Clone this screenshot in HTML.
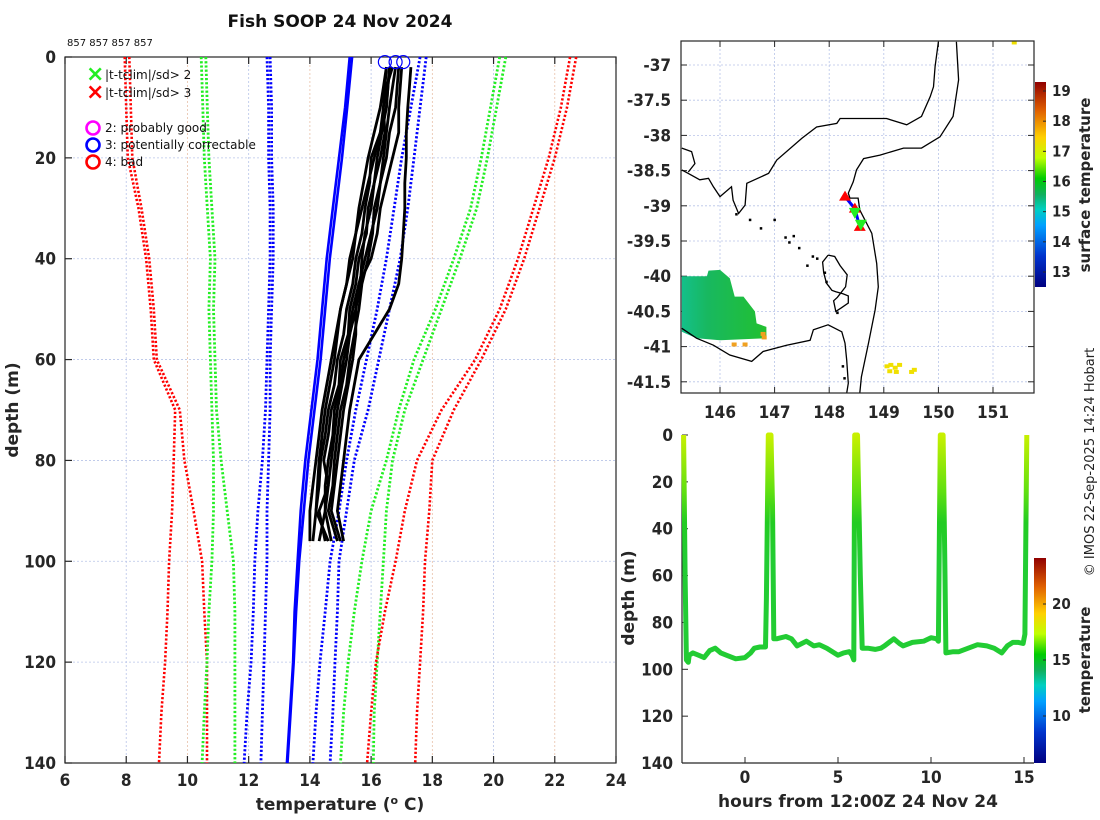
<!DOCTYPE html>
<html><head><meta charset="utf-8">
<style>
html,body{margin:0;padding:0;background:#fff;}
svg{display:block;font-family:"DejaVu Sans","Liberation Sans",sans-serif;}
.tk{font-size:17px;font-weight:bold;fill:#262626;font-family:"DejaVu Sans Condensed","DejaVu Sans",sans-serif;}
.lab{font-size:17px;font-weight:bold;fill:#262626;}
.grid{stroke:#b8c4e8;stroke-width:0.8;stroke-dasharray:2 2;}
.grid2{stroke:#e8c0a8;stroke-width:0.8;stroke-dasharray:2 2;}
</style></head>
<body>
<svg id="fig" width="1100" height="820" viewBox="0 0 1100 820">
<defs>
<linearGradient id="jet" x1="0" y1="1" x2="0" y2="0">
<stop offset="0" stop-color="#000080"/><stop offset="0.15" stop-color="#0033cc"/>
<stop offset="0.3" stop-color="#00a0ff"/><stop offset="0.38" stop-color="#00d0c0"/>
<stop offset="0.45" stop-color="#10b060"/><stop offset="0.53" stop-color="#00cc00"/>
<stop offset="0.63" stop-color="#c0ff00"/><stop offset="0.73" stop-color="#ffd000"/>
<stop offset="0.86" stop-color="#e06000"/><stop offset="1" stop-color="#900000"/>
</linearGradient>
<linearGradient id="trk" gradientUnits="userSpaceOnUse" x1="0" y1="435" x2="0" y2="560">
<stop offset="0" stop-color="#c8f000"/><stop offset="0.45" stop-color="#60e010"/><stop offset="0.7" stop-color="#22cc22"/><stop offset="1" stop-color="#22cc33"/>
</linearGradient>
<linearGradient id="sst" x1="0" y1="0" x2="1" y2="0">
<stop offset="0" stop-color="#14c08a"/><stop offset="0.3" stop-color="#18b860"/><stop offset="1" stop-color="#22c030"/>
</linearGradient>
</defs>
<text x="340" y="27" text-anchor="middle" style="font-size:17px;font-weight:bold;fill:#111">Fish SOOP 24 Nov 2024</text>
<text x="67" y="46" style="font-size:10px;fill:#111">857 857 857 857</text>
<g id="left"></g>
<g id="map"></g>
<g id="sect"></g>
<text transform="translate(1094,462) rotate(-90)" text-anchor="middle" style="font-size:13px;fill:#222">© IMOS 22-Sep-2025 14:24 Hobart</text>
</svg>
<script>
// ---------- left profile plot data ----------
const climDepths=[0,10,20,30,40,50,60,70,80,90,100,110,120,130,140];
const redL1=[7.95,8.0,8.05,8.4,8.65,8.8,8.9,9.6,9.55,9.5,9.4,9.35,9.27,9.15,9.07];
const redL2=[8.1,8.15,8.2,8.5,8.75,8.9,9.0,9.75,9.9,10.2,10.48,10.55,10.64,10.64,10.64];
const greenL1=[10.45,10.5,10.55,10.65,10.75,10.7,10.75,10.8,10.85,10.85,10.8,10.7,10.64,10.55,10.48];
const greenL2=[10.6,10.65,10.7,10.8,10.9,10.85,10.9,10.95,11.1,11.3,11.5,11.55,11.55,11.55,11.55];
const blueL1=[12.6,12.65,12.65,12.7,12.7,12.65,12.6,12.55,12.45,12.3,12.2,12.15,12.08,11.95,11.85];
const blueL2=[12.7,12.75,12.75,12.8,12.8,12.75,12.7,12.7,12.65,12.6,12.6,12.55,12.5,12.45,12.4];
const meanA=[15.3,15.15,14.95,14.75,14.55,14.4,14.25,14.05,13.85,13.7,13.6,13.5,13.45,13.35,13.25];
const meanB=[15.38,15.22,15.05,14.85,14.65,14.5,14.35,14.15,13.95,13.8,13.65,13.55,13.47,13.37,13.27];
const blueR1=[17.6,17.3,17.0,16.75,16.5,16.2,15.85,15.5,15.2,14.95,14.66,14.5,14.33,14.2,14.1];
const blueR2=[17.8,17.6,17.4,17.2,16.95,16.6,16.25,15.9,15.45,15.2,14.95,14.9,14.82,14.75,14.66];
const greenR1=[20.2,19.9,19.6,19.25,18.7,18.1,17.4,16.9,16.5,16.0,15.7,15.45,15.25,15.1,15.0];
const greenR2=[20.4,20.1,19.8,19.45,18.9,18.3,17.7,17.1,16.7,16.5,16.4,16.3,16.2,16.1,16.07];
const redR1=[22.5,22.2,21.8,21.3,20.8,20.2,19.4,18.3,17.5,17.1,16.8,16.45,16.16,16.0,15.87];
const redR2=[22.7,22.4,22.0,21.5,21.0,20.4,19.6,18.7,18.0,17.9,17.76,17.7,17.6,17.5,17.44];
const profDepths=[2,6,10,15,20,25,30,35,40,45,50,55,60,65,70,75,80,85,90,96];
const prof1=[16.5,16.45,16.4,16.3,16.0,15.95,15.8,15.7,15.5,15.4,15.2,15.1,14.9,14.8,14.6,14.5,14.35,14.3,14.2,14.1];
const prof2=[16.6,16.55,16.5,16.35,16.2,16.1,15.9,15.85,15.6,15.5,15.3,15.25,15.0,14.95,14.7,14.6,14.45,14.6,14.3,14.5];
const prof3=[16.7,16.5,16.4,16.45,16.3,16.1,16.0,15.8,15.7,15.65,15.5,15.3,15.1,15.0,14.8,14.75,14.6,14.5,14.5,14.7];
const prof4=[16.9,16.85,16.8,16.6,16.5,16.3,16.1,16.05,15.9,15.7,15.6,15.45,15.3,15.2,15.0,14.9,14.8,14.75,14.6,14.9];
const prof5=[17.0,16.95,16.9,16.9,16.7,16.5,16.3,16.2,16.0,15.6,15.5,15.5,15.4,15.25,15.1,15.0,14.9,14.8,14.7,15.0];
const prof6=[16.5,16.4,16.3,16.1,15.9,15.75,15.6,15.5,15.4,15.2,15.0,14.85,14.7,14.55,14.4,14.3,14.2,14.1,14.0,14.0];
const prof7=[17.3,17.25,17.2,17.15,17.15,17.1,17.1,17.05,17.0,16.9,16.6,16.1,15.6,15.45,15.3,15.2,15.1,15.0,14.9,15.1];
const prof8=[16.6,16.55,16.5,16.3,16.1,15.9,15.7,15.5,15.3,15.2,15.0,14.9,14.8,14.65,14.5,14.4,14.3,14.25,14.2,14.6];
const prof9=[16.8,16.7,16.6,16.5,16.4,16.3,16.2,16.0,15.8,15.6,15.4,15.3,15.2,15.05,14.9,14.8,14.7,14.6,14.5,14.3];
const flagTemps=[16.45,16.8,17.05];
const flagDepths=[1,1,1];
const xTicksL=[6,8,10,12,14,16,18,20,22,24];
const yTicksL=[0,20,40,60,80,100,120,140];

// ---------- map data ----------
const coastMain=[[150.0,-36.67],[149.94,-37.02],[149.91,-37.31],[149.85,-37.45],[149.69,-37.73],[149.42,-37.85],[149.05,-37.76],[148.2,-37.76],[148.14,-37.83],[147.77,-37.88],[147.5,-38.04],[147.04,-38.35],[146.89,-38.54],[146.49,-38.68],[146.46,-38.99],[146.34,-39.11],[146.24,-38.92],[146.21,-38.73],[146.0,-38.87],[145.88,-38.73],[145.79,-38.61],[145.63,-38.63],[145.42,-38.54],[145.3,-38.49]];
const coastWest=[[145.3,-38.18],[145.48,-38.23],[145.54,-38.4],[145.42,-38.52]];
const shelfLine=[[150.33,-36.67],[150.37,-37.21],[150.27,-37.73],[150.03,-38.02],[149.69,-38.18],[149.36,-38.18],[148.93,-38.28],[148.63,-38.33],[148.5,-38.49],[148.44,-38.66],[148.35,-38.82],[148.38,-38.89],[148.53,-38.89],[148.56,-39.06],[148.78,-39.39],[148.87,-39.82],[148.9,-40.15],[148.84,-40.48],[148.72,-40.95],[148.59,-41.43],[148.56,-41.66]];
const coastTas=[[145.3,-40.74],[145.57,-40.88],[145.88,-40.98],[146.18,-41.12],[146.58,-41.21],[146.79,-41.07],[147.22,-40.98],[147.65,-40.91],[147.71,-40.76],[147.98,-40.69],[148.23,-40.79],[148.29,-40.95],[148.32,-41.19],[148.35,-41.52],[148.32,-41.66]];
const flinders=[[147.98,-39.7],[147.88,-39.8],[147.9,-39.95],[147.95,-40.1],[148.05,-40.2],[148.12,-40.22],[148.25,-40.25],[148.35,-40.28],[148.35,-40.38],[148.22,-40.45],[148.12,-40.5],[148.08,-40.35],[148.15,-40.3],[148.3,-40.15],[148.33,-39.98],[148.2,-39.85],[148.1,-39.72],[147.98,-39.7]];
const islands=[[146.3,-39.12],[146.55,-39.2],[146.75,-39.32],[147.0,-39.2],[147.2,-39.45],[147.35,-39.43],[147.45,-39.6],[147.7,-39.72],[147.78,-39.75],[147.6,-39.85],[147.27,-39.52],[147.95,-40.08],[147.92,-39.95],[148.15,-40.52],[148.25,-41.28],[148.28,-41.45]];
const sstPatch=[[145.3,-40.0],[145.76,-40.0],[145.79,-39.92],[146.0,-39.91],[146.18,-40.03],[146.27,-40.29],[146.43,-40.29],[146.64,-40.5],[146.67,-40.67],[146.85,-40.72],[146.85,-40.88],[146.0,-40.91],[145.57,-40.88],[145.3,-40.79]];
const warmPixLon=[149.05,149.12,149.2,149.28,149.1,149.22,149.5,149.55,146.78,146.8,146.25,146.45,151.38];
const warmPixLat=[-41.28,-41.26,-41.3,-41.26,-41.35,-41.36,-41.36,-41.33,-40.82,-40.87,-40.97,-40.97,-36.68];
const trackLon=[148.29,148.47,148.56];
const trackLat=[-38.87,-39.04,-39.3];
const greenLon=[148.47,148.58];
const greenLat=[-39.1,-39.27];
const lonTicks=[146,147,148,149,150,151];
const latTicks=[-37,-37.5,-38,-38.5,-39,-39.5,-40,-40.5,-41,-41.5];
const sstTicks=[13,14,15,16,17,18,19];

// ---------- section data ----------
const hours=[-3.3,-3.22,-3.15,-3.05,-3.0,-2.8,-2.5,-2.2,-1.9,-1.6,-1.3,-1.0,-0.5,0,0.3,0.5,0.8,1.1,1.15,1.25,1.4,1.48,1.55,1.7,2.2,2.5,2.8,3.3,3.7,4.0,4.4,4.6,5.0,5.3,5.6,5.75,5.85,5.9,6.05,6.2,6.3,6.6,7.0,7.3,7.5,8.0,8.3,8.5,9.0,9.6,10.0,10.3,10.4,10.5,10.65,10.75,10.8,11.2,11.5,12.0,12.5,13.0,13.4,13.8,14.1,14.4,14.7,14.95,15.05,15.1,15.15];
const depths=[0,60,96,97,94,93,94,95,92,91,93,94,95.5,95,93,91,90.5,90.5,70,0,0,30,87,87,86,87,90,88,90,89.5,91,92,94,93,92.5,94,96,0,0,60,91,91,91.5,91,90,87,89,90,88.5,88,86.5,87,88,0,0,60,93,92.5,92.5,91,89.5,90,91,93,90,88.5,88.5,89,85,40,0];
const hourTicks=[0,5,10,15];
const depthTicks=[0,20,40,60,80,100,120,140];
const tempTicks=[10,15,20];

const NS='http://www.w3.org/2000/svg';
function mk(parent,tag,attrs,text){const e=document.createElementNS(NS,tag);for(const k in attrs)e.setAttribute(k,attrs[k]);if(text!==undefined)e.textContent=text;parent.appendChild(e);return e;}

// ===== left plot =====
const L=document.getElementById('left');
const lx=t=>65+(t-6)*551/18, ly=d=>57+d*706/140;
xTicksL.forEach((t,i)=>{
  const g=mk(L,'line',{x1:lx(t),x2:lx(t),y1:57,y2:763,class:i%2?'grid':'grid2'});
  
  const a=mk(L,'line',{x1:lx(t),x2:lx(t),y1:763,y2:756,stroke:'#262626','stroke-width':1.2});
  
  const b=mk(L,'line',{x1:lx(t),x2:lx(t),y1:57,y2:64,stroke:'#262626','stroke-width':1.2});
  
  const tx=mk(L,'text',{x:lx(t),y:786,'text-anchor':'middle',class:'tk'},String(t));
  
});
yTicksL.forEach(d=>{
  const g=mk(L,'line',{x1:65,x2:616,y1:ly(d),y2:ly(d),class:'grid'});
  
  const a=mk(L,'line',{x1:65,x2:72,y1:ly(d),y2:ly(d),stroke:'#262626','stroke-width':1.2});
  
  const tx=mk(L,'text',{x:56,y:ly(d)+6,'text-anchor':'end',class:'tk'},String(d));
  
});
const fr=mk(L,'rect',{x:65,y:57,width:551,height:706,fill:'none',stroke:'#262626','stroke-width':1.2});

function lineL(vals,deps,color,dotted,w,name){
  const p=vals.map((v,i)=>(i?'L':'M')+lx(v).toFixed(1)+' '+ly(deps[i]).toFixed(1)).join(' ');
  const e=mk(L,'path',{d:p,fill:'none',stroke:color,'stroke-width':w,'stroke-dasharray':dotted?'2.2 2':'none','stroke-linejoin':'round'});
  
}
lineL(redL1,climDepths,'#ff0000',true,2.6,'clim-3sd-lower');
lineL(redL2,climDepths,'#ff0000',true,2.6,'clim-3sd-lower-2');
lineL(greenL1,climDepths,'#22ee22',true,2.8,'clim-2sd-lower');
lineL(greenL2,climDepths,'#22ee22',true,2.8,'clim-2sd-lower-2');
lineL(blueL1,climDepths,'#0000ff',true,2.8,'clim-1sd-lower');
lineL(blueL2,climDepths,'#0000ff',true,2.8,'clim-1sd-lower-2');
lineL(blueR1,climDepths,'#0000ff',true,2.8,'clim-1sd-upper');
lineL(blueR2,climDepths,'#0000ff',true,2.8,'clim-1sd-upper-2');
lineL(greenR1,climDepths,'#22ee22',true,2.8,'clim-2sd-upper');
lineL(greenR2,climDepths,'#22ee22',true,2.8,'clim-2sd-upper-2');
lineL(redR1,climDepths,'#ff0000',true,2.6,'clim-3sd-upper');
lineL(redR2,climDepths,'#ff0000',true,2.6,'clim-3sd-upper-2');
lineL(meanA,climDepths,'#0000ff',false,2.6,'clim-mean');
lineL(meanB,climDepths,'#0000ff',false,2.6,'clim-mean-2');
[prof1,prof2,prof3,prof4,prof5,prof6,prof7,prof8,prof9].forEach((p,i)=>lineL(p,profDepths,'#000',false,2.8,'profile-'+(i+1)));
flagTemps.forEach((t,i)=>{
  const c=mk(L,'circle',{cx:lx(t),cy:ly(flagDepths[i]),r:6.5,fill:'none',stroke:'#0000ff','stroke-width':1.2});
  
});
// legend
const leg=mk(L,'g',{});

[['×','#22ee22','|t-tclim|/sd> 2',74],['×','#ff0000','|t-tclim|/sd> 3',92]].forEach(r=>{
  const m=mk(leg,'text',{x:86,y:r[3]+7,style:'font-size:22px;font-weight:bold;fill:'+r[1]},r[0]);
  
  const t=mk(leg,'text',{x:105,y:r[3]+5,style:'font-size:12px;fill:#111'},r[2]);
  
});
[['#ff00ff','2: probably good',128],['#0000ff','3: potentially correctable',145],['#ff0000','4: bad',162]].forEach(r=>{
  const c=mk(leg,'circle',{cx:93,cy:r[2],r:6.5,fill:'none',stroke:r[0],'stroke-width':2.6});
  
  const t=mk(leg,'text',{x:105,y:r[2]+4,style:'font-size:12px;fill:#111'},r[1]);
  
});
let t1=mk(L,'text',{x:340,y:810,'text-anchor':'middle',class:'lab'});
t1.innerHTML='temperature (<tspan dy="-6" font-size="11">o</tspan><tspan dy="6"> C)</tspan>';

let t2=mk(L,'text',{transform:'translate(18,410) rotate(-90)','text-anchor':'middle',class:'lab'},'depth (m)');


// ===== map =====
const M=document.getElementById('map');
const mx=lon=>720+(lon-146)*54.6, my=lat=>65+(-37-lat)*70.4;
lonTicks.forEach(v=>{
  const g=mk(M,'line',{x1:mx(v),x2:mx(v),y1:41,y2:393,class:'grid'});
  
  const a=mk(M,'line',{x1:mx(v),x2:mx(v),y1:393,y2:387,stroke:'#262626'});
  
  const b=mk(M,'line',{x1:mx(v),x2:mx(v),y1:41,y2:47,stroke:'#262626'});
  
  const tx=mk(M,'text',{x:mx(v),y:418,'text-anchor':'middle',class:'tk'},String(v));
  
});
latTicks.forEach(v=>{
  const g=mk(M,'line',{x1:681,x2:1034,y1:my(v),y2:my(v),class:'grid'});
  
  const a=mk(M,'line',{x1:681,x2:687,y1:my(v),y2:my(v),stroke:'#262626'});
  
  const b=mk(M,'line',{x1:1028,x2:1034,y1:my(v),y2:my(v),stroke:'#262626'});
  
  const tx=mk(M,'text',{x:671,y:my(v)+6,'text-anchor':'end',class:'tk'},String(v));
  
});
const pts=a=>a.map(p=>mx(p[0]).toFixed(1)+','+my(p[1]).toFixed(1)).join(' ');
let sp=mk(M,'polygon',{points:pts(sstPatch),fill:'url(#sst)'});

warmPixLon.forEach((v,i)=>{
  const r=mk(M,'rect',{x:mx(v)-2,y:my(warmPixLat[i])-2,width:5,height:4,fill:i>=8&&i<12?'#f0a020':'#f0e000'});
  
});
[[coastMain,'coastline-mainland'],[coastWest,'coastline-west'],[shelfLine,'coastline-east'],[coastTas,'coastline-tasmania'],[flinders,'flinders-island']].forEach(c=>{
  const e=mk(M,'polyline',{points:pts(c[0]),fill:'none',stroke:'#000','stroke-width':1.3});
  
});
islands.forEach(p=>{
  const e=mk(M,'rect',{x:mx(p[0])-1.2,y:my(p[1])-1.2,width:2.5,height:2.5,fill:'#000'});
  
});
let tr=mk(M,'polyline',{points:trackLon.map((v,i)=>mx(v)+','+my(trackLat[i])).join(' '),fill:'none',stroke:'#0000ff','stroke-width':3});

trackLon.forEach((v,i)=>{
  const x=mx(v),y=my(trackLat[i]);
  const e=mk(M,'polygon',{points:`${x},${y-6} ${x-6},${y+4} ${x+6},${y+4}`,fill:'#ff0000'});
  
});
greenLon.forEach((v,i)=>{
  const x=mx(v),y=my(greenLat[i]);
  const e=mk(M,'polygon',{points:`${x-6},${y-5} ${x+6},${y-5} ${x},${y+6}`,fill:'#22ee22'});
  
});
let mf=mk(M,'rect',{x:681,y:41,width:353,height:352,fill:'none',stroke:'#262626','stroke-width':1.2});

let cb=mk(M,'rect',{x:1035,y:82,width:11,height:205,fill:'url(#jet)'});

const cby=v=>91+(19-v)*(272-91)/6;
sstTicks.forEach(v=>{
  const a=mk(M,'line',{x1:1043,x2:1046,y1:cby(v),y2:cby(v),stroke:'#262626'});
  
  const tx=mk(M,'text',{x:1052,y:cby(v)+5,class:'tk',style:'font-size:15px'},String(v));
  
});
let ct=mk(M,'text',{transform:'translate(1090,185) rotate(-90)','text-anchor':'middle',class:'lab',style:'font-size:15px'},'surface temperature');


// ===== section =====
const S=document.getElementById('sect');
const sx=h=>745+h*18.6, sy=d=>435+d*2.343;
let ax1=mk(S,'line',{x1:682,x2:682,y1:435,y2:763,stroke:'#262626','stroke-width':1.2});

let ax2=mk(S,'line',{x1:682,x2:1034,y1:763,y2:763,stroke:'#262626','stroke-width':1.2});

hourTicks.forEach(v=>{
  const a=mk(S,'line',{x1:sx(v),x2:sx(v),y1:763,y2:757,stroke:'#262626'});
  
  const tx=mk(S,'text',{x:sx(v),y:783,'text-anchor':'middle',class:'tk'},String(v));
  
});
depthTicks.forEach(v=>{
  const a=mk(S,'line',{x1:682,x2:688,y1:sy(v),y2:sy(v),stroke:'#262626'});
  
  const tx=mk(S,'text',{x:673,y:sy(v)+6,'text-anchor':'end',class:'tk'},String(v));
  
});
let tp=mk(S,'path',{d:hours.map((h,i)=>(i?'L':'M')+sx(h).toFixed(1)+' '+sy(depths[i]).toFixed(1)).join(' '),fill:'none',stroke:'url(#trk)','stroke-width':5,'stroke-linejoin':'round'});

let cb2=mk(S,'rect',{x:1034,y:558,width:12,height:205,fill:'url(#jet)'});

const cby2=v=>716-(v-10)*11.2;
tempTicks.forEach(v=>{
  const a=mk(S,'line',{x1:1043,x2:1046,y1:cby2(v),y2:cby2(v),stroke:'#262626'});
  
  const tx=mk(S,'text',{x:1052,y:cby2(v)+5,class:'tk',style:'font-size:15px'},String(v));
  
});
let st=mk(S,'text',{transform:'translate(1090,660) rotate(-90)','text-anchor':'middle',class:'lab',style:'font-size:15px'},'temperature');

let sxT=mk(S,'text',{x:858,y:807,'text-anchor':'middle',class:'lab'},'hours from 12:00Z 24 Nov 24');

let syT=mk(S,'text',{transform:'translate(634,598) rotate(-90)','text-anchor':'middle',class:'lab'},'depth (m)');

</script>
</body></html>
